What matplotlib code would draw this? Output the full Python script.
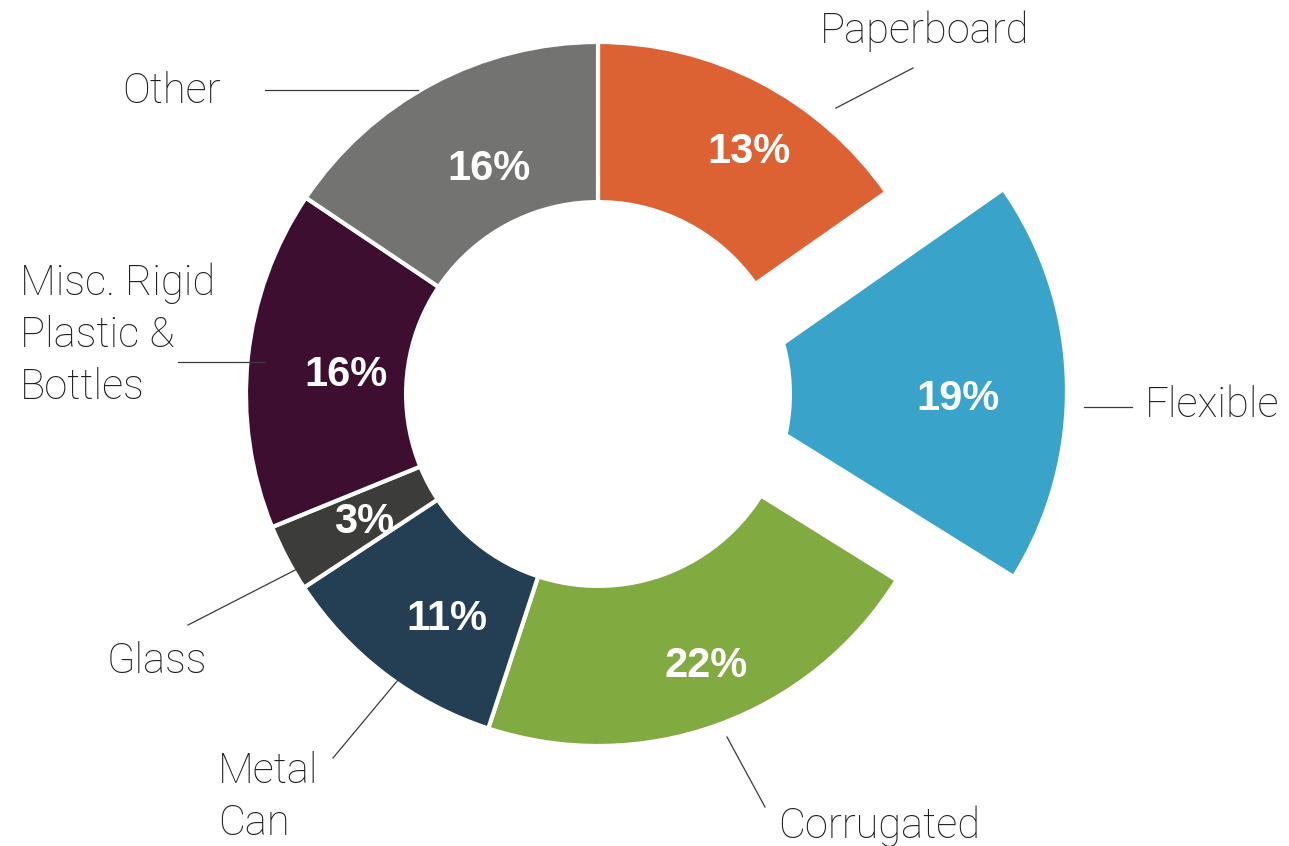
import math
import matplotlib
matplotlib.use("Agg")
import matplotlib.pyplot as plt
from matplotlib.patches import Circle

W, H = 1289, 846

# slice shares as drawn, printed labels, colours
categories = ["Paperboard", "Flexible", "Corrugated", "Metal\nCan", "Glass",
              "Misc. Rigid\nPlastic &\nBottles", "Other"]
shares = [15.3, 18.6, 21.2, 10.7, 3.1, 15.6, 15.6]
pct_labels = ["13%", "19%", "22%", "11%", "3%", "16%", "16%"]
colors = ["#DC6234", "#39A3CA", "#81AA40", "#243E54", "#3C3C3A", "#3E0E30", "#737371"]

# layout (pixel coords, y measured from top)
CX, CY, R, HOLE = 598, 394, 352, 194
explode = [0, 117, 0, 0, 0, 0, 0]
pct_r = [0.82, 0.69, 0.82, 0.76, 0.75, 0.72, 0.72]
pct_nudge = [-4.0, -2.5, 2.0, 3.1, 0.0, 0.6, -2.7]
# (text x, first baseline y, leader x1, y1, x2, y2)
label_pos = [
    (820, 43, 836, 108, 913, 68),
    (1145, 417, 1084, 407, 1132, 407),
    (778, 838, 727, 737, 765, 807),
    (218, 783, 398, 680, 333, 758),
    (107, 673, 305, 565, 188, 625),
    (20, 295, 265, 362, 178, 362),
    (122, 103, 265, 90, 418, 90),
]
LINE_STEP = 52

FONT = ["Liberation Sans", "DejaVu Sans"]
LABEL_FONT = ["Roboto", "Liberation Sans", "DejaVu Sans"]
TEXT = "#1e1e1e"
LEADER = "#3a3a3a"


def py(y):
    return H - y


fig = plt.figure(figsize=(W / 100, H / 100), dpi=100, facecolor="white")
ax = fig.add_axes([0, 0, 1, 1])

wedges, _ = ax.pie(
    shares, colors=colors, startangle=90, counterclock=False,
    radius=R, center=(CX, py(CY)), explode=explode,
    wedgeprops=dict(edgecolor="white", linewidth=3),
)
ax.add_patch(Circle((CX, py(CY)), HOLE, facecolor="white", edgecolor="none", zorder=3))

for w, lab, rr, nudge in zip(wedges, pct_labels, pct_r, pct_nudge):
    ang = math.radians((w.theta1 + w.theta2) / 2 + nudge)
    x0, y0 = w.center
    ax.text(x0 + rr * R * math.cos(ang), y0 + rr * R * math.sin(ang), lab,
            ha="center", va="center_baseline", color="white", fontsize=30,
            fontweight="bold", family=FONT, zorder=4)

for name, (tx, ty, x1, y1, x2, y2) in zip(categories, label_pos):
    for i, line in enumerate(name.split("\n")):
        ax.text(tx, py(ty + i * LINE_STEP), line, ha="left", va="baseline",
                color=TEXT, fontsize=30, fontweight="light", family=LABEL_FONT, zorder=4)
    ax.plot([x1, x2], [py(y1), py(y2)], color=LEADER, linewidth=0.9, zorder=4)

ax.set_xlim(0, W)
ax.set_ylim(0, H)
ax.set_aspect("equal")
ax.axis("off")

fig.savefig("out.png", dpi=100, facecolor="white")
